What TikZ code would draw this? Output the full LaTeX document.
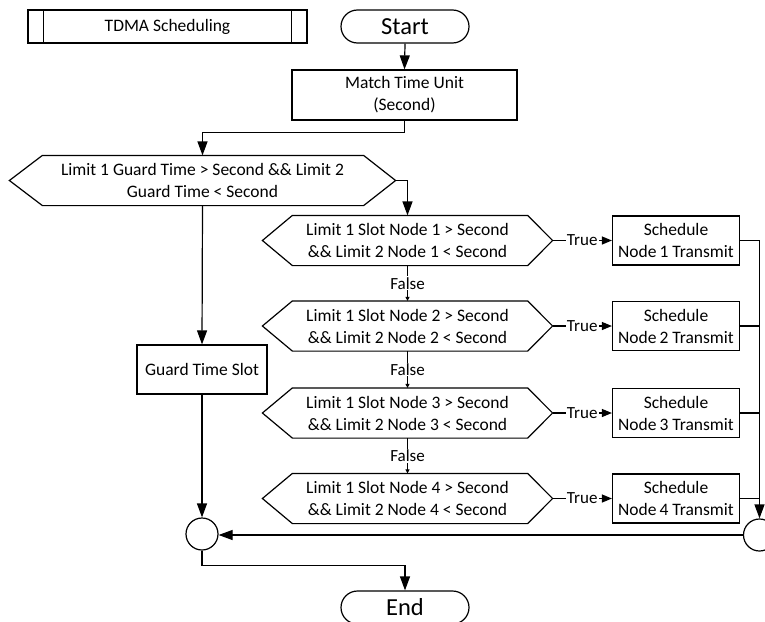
\documentclass[tikz,border=0pt]{standalone}
\usepackage{fontspec}
\setmainfont{Carlito}
\usetikzlibrary{arrows.meta,shapes.misc}
\begin{document}
\begin{tikzpicture}[x=1pt,y=-1pt,
  ln/.style={line width=1.2pt},
  base/.style={ln, align=center, inner sep=0pt, font=\fontsize{17.5}{22}\selectfont},
  boxnode/.style={base, draw, rectangle},
  hexnode/.style={base, rectangle, minimum width=289pt, minimum height=49pt},
  term/.style={base, draw, rounded rectangle, minimum width=128pt, minimum height=33pt, font=\fontsize{24.5}{28}\selectfont},
  junc/.style={ln, draw, circle, minimum size=32pt, inner sep=0pt},
  arr/.style={ln, -{Triangle[length=14pt,width=10pt]}},
  tarr/.style={ln, -{Triangle[length=10pt,width=8pt]}},
  farr/.style={ln, -{Triangle[length=4pt,width=4pt]}},
  lab/.style={fill=white, inner sep=1pt, font=\fontsize{17}{20}\selectfont}
]
\useasboundingbox (0,0) rectangle (765,621);
\fill[white] (0,0) rectangle (765,621);

% header
\node[boxnode, minimum width=279pt, minimum height=33pt] (tdma) at (167.5,26.5) {TDMA Scheduling};
\draw[ln] ([xshift=16pt]tdma.north west) -- ([xshift=16pt]tdma.south west);
\draw[ln] ([xshift=-16pt]tdma.north east) -- ([xshift=-16pt]tdma.south east);

\node[term] (start) at (405,26.5) {Start};
\node[boxnode, minimum width=225pt, minimum height=50pt] (match) at (404.5,95) {Match Time Unit\\(Second)};

% guard decision
\node[hexnode, minimum width=385pt] (h0) at (202.5,180.5) {Limit 1 Guard Time > Second \&\& Limit 2\\Guard Time < Second};
\draw[ln] ([xshift=33pt]h0.north west) -- ([xshift=-32pt]h0.north east) -- (h0.east) -- ([xshift=-32pt]h0.south east) -- ([xshift=33pt]h0.south west) -- (h0.west) -- cycle;

\node[boxnode, minimum width=130pt, minimum height=49pt] (guard) at (202,369.5) {Guard Time Slot};

% slot decisions
\foreach \i/\y in {1/240.5,2/326,3/413,4/498.5}{
  \node[hexnode] (h\i) at (407.5,\y) {Limit 1 Slot Node \i{} > Second\\\&\& Limit 2 Node \i{} < Second};
  \draw[ln] ([xshift=30pt]h\i.north west) -- ([xshift=-25pt]h\i.north east) -- (h\i.east) -- ([xshift=-25pt]h\i.south east) -- ([xshift=30pt]h\i.south west) -- (h\i.west) -- cycle;
  \node[boxnode, minimum width=127pt, minimum height=49pt] (s\i) at (676,\y) {Schedule\\Node\,\i{} Transmit};
  \draw[tarr] (h\i.east) -- node[lab] {True} (s\i.west);
}
\foreach \i/\j in {1/2,2/3,3/4}{
  \draw[farr] (h\i.south) -- node[lab] {False} (h\j.north);
}

\node[junc] (lc) at (202,534) {};
\node[junc] (rc) at (759.5,535) {};
\node[term] (end) at (405,607.5) {End};

% connectors
\draw[arr] (start.south) -- (match.north);
\draw[arr] (match.south) -- ++(0,12) -| (h0.north);
\draw[arr] (h0.east) -| (h1.north);
\draw[arr] (h0.south) -- (guard.north);
\draw[arr] (guard.south) -- (lc.north);
\draw[arr] (s1.east) -| (rc.north);
\draw[ln] (s2.east) -- (s2.east -| rc.north);
\draw[ln] (s3.east) -- (s3.east -| rc.north);
\draw[ln] (s4.east) -- (s4.east -| rc.north);
\draw[arr] (rc.west) -- (rc.west -| lc.east);
\draw[arr] (lc.south) -- ++(0,15) -| (end.north);
\end{tikzpicture}
\end{document}
